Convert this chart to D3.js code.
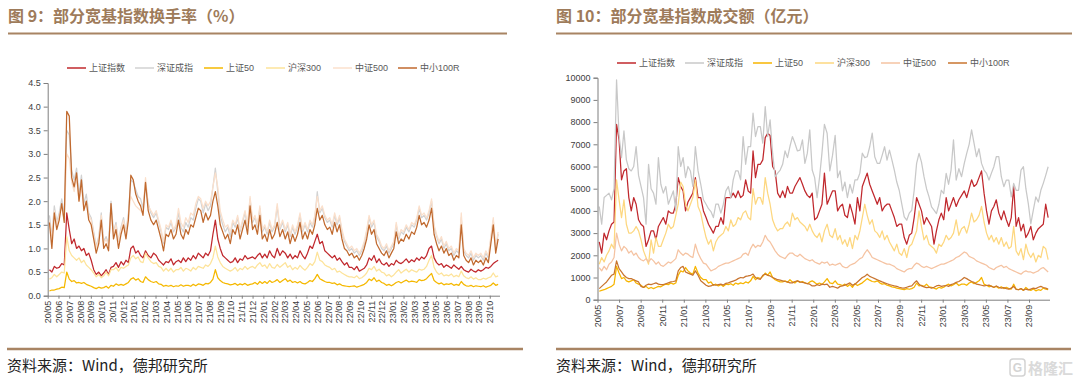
<!DOCTYPE html>
<html lang="zh">
<head>
<meta charset="utf-8">
<title>部分宽基指数换手率与成交额</title>
<script src="https://d3js.org/d3.v7.min.js"></script>
<style>
  body { margin: 0; background: #fff; }
  svg text { font-family: "Liberation Sans", Arial, "Noto Sans CJK SC", sans-serif; }
  .title { font-family: "Noto Sans CJK SC", sans-serif; font-weight: 700; font-size: 16px; fill: #9e7b5a; }
  .source { font-family: "Noto Sans CJK SC", sans-serif; font-size: 15px; fill: #222; }
  .legend text { font-size: 9px; fill: #595959; }
  .axis text { font-size: 9px; fill: #404040; }
  .axis path, .axis line { stroke: #7f7f7f; }
</style>
</head>
<body>
<svg id="chart" width="1080" height="383"></svg>
<script>
// ---- data: weekly readings, 2020-05-06 .. 2023-10-25 ----
const seriesNames = ["上证指数", "深证成指", "上证50", "沪深300", "中证500", "中小100R"];

const leftTicks = ["20/05","20/06","20/07","20/08","20/09","20/10","20/11","20/12",
  "21/01","21/02","21/03","21/04","21/05","21/06","21/07","21/08","21/09","21/10","21/11","21/12",
  "22/01","22/02","22/03","22/04","22/05","22/06","22/07","22/08","22/09","22/10","22/11","22/12",
  "23/01","23/02","23/03","23/04","23/05","23/06","23/07","23/08","23/09","23/10"];
const rightTicks = ["20/05","20/07","20/09","20/11","21/01","21/03","21/05","21/07","21/09","21/11",
  "22/01","22/03","22/05","22/07","22/09","22/11","23/01","23/03","23/05","23/07","23/09"];
const leftYTicks = [0, 0.5, 1, 1.5, 2, 2.5, 3, 3.5, 4, 4.5];
const rightYTicks = [0, 1000, 2000, 3000, 4000, 5000, 6000, 7000, 8000, 9000, 10000];

// 换手率 (%)
const toShIndex = [
  0.55,0.5,0.62,0.58, 0.6,0.68,0.65,1.75, 1.4,1.1,1.2,1.0,1.05, 0.95,1.0,0.85,0.9, 0.75,0.55,0.45,0.5,0.42, 0.48,0.55,0.45,0.6, 0.62,0.7,0.6,0.72, 0.65,0.75,0.7,1.0,1.05,
  0.9,0.95,0.85,0.8, 0.95,0.85,0.8,0.9, 0.85,0.75,0.7,0.65,0.72, 0.7,0.78,0.65,0.72, 0.75,0.7,0.8,0.72, 0.8,0.75,0.85,0.78,0.9, 0.85,0.8,0.9,0.85, 0.95,1.3,1.6,1.2, 1.0,0.85,0.8,0.75,0.7, 0.72,0.8,0.7,0.78, 0.75,0.85,0.78,0.8, 0.82,0.78,0.85,0.9,0.8,
  0.88,0.8,0.95,0.85, 0.8,1.0,0.85,0.95, 0.9,0.8,0.88,0.78,0.85, 0.8,0.95,0.85,0.78, 0.9,1.05,1.0,1.15, 1.3,1.1,1.15,0.95,0.9, 0.85,0.8,0.85,0.75, 0.8,0.72,0.65,0.7,0.6, 0.6,0.55,0.62,0.52, 0.55,0.58,0.65,0.8, 0.75,0.85,0.7,0.78,0.68, 0.65,0.7,0.62,0.68,
  0.65,0.75,0.7,0.68, 0.72,0.78,0.7,0.76, 0.72,0.8,0.75,0.82,0.78, 0.85,1.0,1.05,0.8, 0.7,0.65,0.68,0.6,0.65, 0.62,0.58,0.65,0.6, 0.56,0.62,0.55,0.52, 0.5,0.56,0.52,0.5,0.55, 0.52,0.55,0.6,0.58, 0.62,0.68,0.72,0.75
];
const toSzIndex = [
  1.7,1.25,1.9,1.55, 1.75,2.05,1.7,3.5, 3.4,2.65,2.45,2.7,2.15, 2.55,1.95,2.15,1.75, 1.65,1.35,1.05,1.25,1.75, 1.15,1.25,1.1,2.0, 1.35,1.55,1.15,1.45, 1.65,1.35,1.75,2.45,2.4,
  2.25,2.1,2.05,1.85, 2.4,1.95,1.75,1.65, 1.75,1.55,1.35,1.1,1.45, 1.4,1.55,1.35,1.45, 1.75,1.45,1.35,1.55, 1.45,1.65,1.6,1.85,2.05, 2.0,1.75,1.95,1.8, 1.9,2.3,2.7,2.2, 1.7,1.5,1.35,1.45,1.25, 1.55,1.45,1.65,1.35, 1.55,1.75,1.45,2.05, 1.55,1.65,1.45,1.85,1.35,
  1.45,1.3,1.55,1.35, 1.45,1.88,1.4,1.55, 1.35,1.5,1.25,1.45,1.3, 1.45,1.7,1.35,1.5, 1.35,1.55,1.45,1.65, 2.2,1.75,1.85,1.65,1.55, 1.6,1.45,1.7,1.5, 1.65,1.35,1.15,1.05,0.95, 1.0,0.9,0.95,0.85, 0.95,1.1,1.35,1.65, 1.45,1.55,1.25,1.15,1.0, 0.95,1.05,0.9,1.0,
  1.1,1.5,1.2,1.35, 1.3,1.45,1.35,1.5, 1.45,1.6,1.85,1.65,1.7, 1.6,1.75,2.0,1.45, 1.25,1.1,1.2,1.0,1.1, 0.95,1.0,0.85,0.95, 0.9,1.65,0.95,0.85, 0.8,0.9,0.75,0.85,0.8, 0.85,0.75,0.9,0.8, 1.2,1.6,1.0,1.3
];
const toSh50 = [
  0.1,0.12,0.12,0.14, 0.15,0.18,0.17,0.5, 0.35,0.3,0.32,0.27,0.28, 0.26,0.28,0.24,0.22, 0.2,0.17,0.15,0.18,0.16, 0.17,0.2,0.16,0.22, 0.2,0.25,0.22,0.24, 0.22,0.25,0.28,0.35,0.38,
  0.33,0.36,0.3,0.28, 0.4,0.34,0.3,0.28, 0.3,0.25,0.24,0.2,0.22, 0.2,0.22,0.19,0.21, 0.2,0.23,0.2,0.22, 0.22,0.2,0.24,0.21,0.25, 0.24,0.22,0.26,0.25, 0.28,0.35,0.55,0.38, 0.32,0.28,0.26,0.25,0.23, 0.24,0.26,0.22,0.25, 0.23,0.26,0.22,0.24, 0.25,0.28,0.24,0.3,0.26,
  0.3,0.26,0.32,0.28, 0.3,0.34,0.28,0.32, 0.36,0.3,0.33,0.28,0.3, 0.27,0.3,0.26,0.25, 0.28,0.32,0.3,0.36, 0.45,0.36,0.33,0.3,0.28, 0.28,0.26,0.27,0.23, 0.25,0.22,0.21,0.2,0.19, 0.2,0.21,0.18,0.2, 0.22,0.24,0.28,0.35, 0.32,0.38,0.3,0.33,0.28, 0.26,0.22,0.24,0.21,
  0.24,0.28,0.3,0.27, 0.3,0.33,0.29,0.31, 0.3,0.28,0.34,0.32,0.33, 0.36,0.42,0.47,0.32, 0.28,0.25,0.27,0.23,0.25, 0.24,0.26,0.22,0.24, 0.22,0.3,0.24,0.21, 0.2,0.22,0.19,0.21,0.2, 0.19,0.21,0.18,0.2, 0.22,0.27,0.22,0.24
];
const toHs300 = [
  0.35,0.38,0.45,0.4, 0.45,0.5,0.48,1.25, 0.95,0.85,0.8,0.75,0.8, 0.7,0.75,0.65,0.6, 0.55,0.48,0.4,0.45,0.38, 0.42,0.5,0.42,0.55, 0.55,0.6,0.52,0.6, 0.58,0.62,0.65,0.8,0.85,
  0.78,0.82,0.72,0.7, 0.9,0.8,0.72,0.68, 0.7,0.62,0.6,0.52,0.58, 0.52,0.58,0.5,0.55, 0.55,0.6,0.52,0.58, 0.56,0.52,0.6,0.55,0.62, 0.6,0.58,0.65,0.62, 0.68,0.8,1.05,0.82, 0.7,0.62,0.58,0.55,0.52, 0.55,0.6,0.52,0.58, 0.55,0.62,0.56,0.6, 0.62,0.58,0.65,0.7,0.62,
  0.65,0.58,0.68,0.6, 0.58,0.66,0.6,0.65, 0.7,0.6,0.64,0.55,0.6, 0.56,0.64,0.58,0.54, 0.6,0.68,0.64,0.72, 0.92,0.75,0.72,0.65,0.62, 0.6,0.55,0.58,0.5, 0.52,0.48,0.45,0.42,0.4, 0.4,0.38,0.42,0.36, 0.38,0.42,0.48,0.58, 0.55,0.62,0.52,0.56,0.5, 0.48,0.42,0.45,0.4,
  0.44,0.5,0.55,0.48, 0.52,0.56,0.5,0.55, 0.52,0.5,0.56,0.54,0.56, 0.62,0.75,0.85,0.6, 0.5,0.45,0.48,0.42,0.44, 0.42,0.46,0.4,0.43, 0.4,0.52,0.42,0.38, 0.36,0.4,0.35,0.38,0.34, 0.34,0.37,0.35,0.38, 0.4,0.48,0.4,0.42
];
const toZz500 = [
  1.6,1.2,1.8,1.5, 1.7,1.9,1.6,3.0, 2.9,2.4,2.2,2.5,2.0, 2.3,1.85,2.0,1.7, 1.6,1.3,1.0,1.2,1.7, 1.1,1.2,1.05,1.8, 1.3,1.5,1.15,1.4, 1.6,1.3,1.7,2.1,2.0,
  1.9,1.85,1.8,1.75, 2.5,1.9,1.8,1.7, 1.8,1.6,1.4,1.15,1.5, 1.45,1.6,1.4,1.5, 1.85,1.55,1.45,1.65, 1.55,1.75,1.7,1.95,2.1, 2.05,1.85,2.0,1.9, 2.0,2.3,2.6,2.3, 1.8,1.6,1.45,1.5,1.35, 1.6,1.5,1.7,1.4, 1.6,1.8,1.5,2.1, 1.6,1.7,1.5,1.9,1.4,
  1.5,1.35,1.6,1.4, 1.5,1.95,1.45,1.6, 1.4,1.55,1.3,1.5,1.35, 1.5,1.75,1.4,1.55, 1.4,1.6,1.5,1.7, 2.1,1.8,1.9,1.7,1.6, 1.65,1.5,1.75,1.55, 1.7,1.4,1.2,1.1,1.0, 1.05,0.95,1.0,0.9, 1.0,1.15,1.4,1.7, 1.5,1.6,1.3,1.2,1.05, 1.0,1.1,0.95,1.05,
  1.15,1.55,1.25,1.4, 1.35,1.5,1.4,1.55, 1.5,1.65,1.9,1.7,1.75, 1.65,1.8,2.05,1.5, 1.3,1.15,1.25,1.05,1.15, 1.0,1.05,0.9,1.0, 0.95,1.75,1.0,0.9, 0.85,0.95,0.8,0.9,0.85, 0.9,0.8,0.95,0.85, 1.25,1.65,1.05,1.35
];
const toZx100r = [
  1.55,1.0,1.75,1.4, 1.6,1.95,1.55,3.9, 3.8,2.5,2.3,2.6,2.0, 2.45,1.8,2.0,1.6, 1.5,1.2,0.9,1.1,1.6, 1.0,1.1,0.95,1.95, 1.2,1.4,1.0,1.3, 1.5,1.2,1.6,2.55,2.45,
  2.15,2.0,1.9,1.7, 2.4,1.8,1.6,1.5, 1.6,1.4,1.2,0.95,1.3, 1.25,1.4,1.2,1.3, 1.6,1.3,1.2,1.4, 1.3,1.5,1.45,1.65,1.85, 1.8,1.55,1.75,1.6, 1.7,2.0,2.2,1.9, 1.5,1.35,1.2,1.3,1.1, 1.4,1.3,1.5,1.2, 1.4,1.6,1.3,1.9, 1.4,1.5,1.3,1.7,1.2,
  1.3,1.15,1.4,1.2, 1.3,1.55,1.25,1.4, 1.2,1.35,1.1,1.3,1.15, 1.3,1.55,1.2,1.35, 1.2,1.4,1.3,1.5, 1.85,1.6,1.7,1.5,1.4, 1.45,1.3,1.55,1.35, 1.5,1.2,1.0,0.95,0.85, 0.9,0.8,0.85,0.75, 0.85,1.0,1.2,1.5, 1.3,1.4,1.1,1.0,0.9, 0.85,0.95,0.8,0.9,
  1.0,1.35,1.1,1.2, 1.15,1.3,1.2,1.35, 1.3,1.45,1.7,1.5,1.55, 1.45,1.6,1.85,1.3, 1.1,0.95,1.05,0.9,1.0, 0.85,0.9,0.75,0.85, 0.8,1.5,0.85,0.75, 0.7,0.8,0.65,0.75,0.7, 0.75,0.65,0.8,0.7, 1.1,1.5,0.9,1.2
];

// 成交额 (亿元)
const amtShIndex = [
  2600,2100,3000,2700, 3100,3400,3500,7900, 7200,5400,5800,5900,4600, 4000,4600,4300,3600, 3400,3300,2400,2700,3100, 3100,2700,3300,3500, 3700,3400,4000,3900, 3900,4300,5500,5100,4900,
  4000,4400,4600,4800, 5500,4600,4600,4000, 3700,3400,3200,3000,3300, 3300,3700,3400,4600, 4600,4600,4800,4600, 4900,4600,4700,5400,4900, 4800,6700,5500,6100, 6100,6300,7300,7500, 7400,6000,5800,4800,4600, 4900,4600,5100,4800, 4800,5100,5300,5500, 5200,4900,4700,4600,4800,
  3600,3700,4000,4300, 5700,4300,4600,4900, 4900,4000,4200,4300,3800, 3700,4300,3900,3400, 4600,4000,5100,5400, 5700,5200,4900,4600,4300, 4600,4000,4200,4300, 4300,4000,3700,3300,3400, 3400,2800,2500,2900, 3000,3700,4600,4300, 4000,3400,3700,3500,3300, 2500,3100,3600,3900,
  3600,4600,4000,4300, 4600,4200,4500,4700, 4900,4600,5000,5400,5100, 5200,5500,5800,4800, 4000,3400,4000,4200,4500, 3900,3600,4000,3600, 3300,3700,5100,3300, 3700,3100,3400,2800,3000, 3300,2700,3000,3200, 3300,3400,4300,3700
];
const amtSzIndex = [
  4200,3400,4600,4700, 4800,4500,5000,9900, 7400,6400,7600,6300,5900, 5800,6000,6900,5600, 5100,4600,3400,6100,5000, 4800,4300,6400,5200, 4800,5100,4300,4600, 4900,4000,6900,6000,6400,
  5500,6000,5800,5100, 6900,5800,5200,4500, 4300,4100,3970,3700,4300, 4300,3900,4300,4900, 5100,4600,5400,5800, 5800,5400,7350,6100,6900, 6900,8400,7350,7800, 7800,7050,8700,7350, 8100,6600,5540,5700,5840, 6100,6700,6400,6900, 7350,7050,6700,6740, 7200,6140,6600,7650,5840,
  5500,4600,5500,6600, 7900,7500,5800,6500, 7400,5500,5800,4900,5300, 4600,5200,4800,5400, 5400,5700,6600,6400, 6440,6890,7500,6440,6140, 6140,6500,6890,6290, 6740,6300,5840,5300,4930, 4330,3730,3580,3900, 4030,4930,6140,6590, 6200,5540,5000,4630,4180, 4030,3880,4300,4930,
  4780,5690,5200,5840, 7200,5390,5900,5540, 6140,6590,7000,7650,7050, 6440,6800,6140,5840, 5690,5390,5700,5990,6440, 6440,5540,5090,5390, 5390,4630,5240,4930, 4930,5840,5990,5000,4330, 3420,4030,4630,4400, 4930,5240,5600,5990
];
const amtSh50 = [
  380,420,450,500, 550,600,700,1500, 1200,950,1000,850,800, 850,900,750,700, 650,550,600,500,550, 500,550,600,580, 650,700,680,750, 700,750,1100,1300,1250,
  1450,1300,1200,1150, 1500,1200,1000,900, 900,750,800,650,700, 620,680,600,700, 680,720,650,750, 700,760,720,800,750, 850,1050,900,1000, 950,1050,1200,1100, 1250,1000,900,850,800, 800,850,780,900, 800,750,850,780, 820,760,720,800,850,
  780,700,750,680, 800,950,760,720, 850,700,680,640,700, 600,680,560,720, 640,700,760,850, 950,880,820,800,850, 760,700,720,650, 620,580,560,520,500, 480,450,500,470, 500,560,750,620, 650,600,700,580,560, 520,480,560,520,
  560,650,700,620, 680,750,640,700, 700,650,750,800,720, 780,850,1000,700, 650,580,620,550,600, 520,580,500,560, 500,480,700,480, 450,500,420,550,460, 420,480,400,450, 420,520,480,450
];
const amtHs300 = [
  1600,1900,1700,2000, 2200,2500,2300,5400, 4500,3700,4500,3400,3000, 3000,3100,3300,3100, 2700,2200,1900,1600,2700, 2100,2800,2400,2400, 2700,3000,3400,3200, 3300,3800,4300,5300,5100,
  4300,4000,4300,4600, 5400,4200,3900,3300, 2800,2500,2700,2200,2600, 2800,2900,3000,3300, 3100,3600,3300,3400, 3700,3600,3900,4000,3700, 3600,5000,4300,4600, 4600,4300,5500,4800, 4300,3600,3300,3100,3200, 3200,3400,3500,3300, 3900,3600,3700,3500, 3400,3300,3100,3400,3100,
  2900,2800,3000,2600, 3100,3400,2900,2800, 3200,2700,2900,2500,2700, 2400,2800,2300,2900, 2700,3100,3700,4300, 3800,3400,3600,3100,3000, 2800,3100,2700,2900, 2600,2400,2200,2500,2100, 2000,2300,1900,2400, 2500,2800,3100,4000, 3300,2700,2900,2500,2400, 2300,2100,2500,2400,
  2600,2900,2700,2800, 3000,3600,2900,3200, 3300,3000,3400,3900,3500, 3600,3800,4200,3500, 3000,2700,2900,2600,2800, 2500,2800,2400,2600, 2300,2400,3300,2200, 2000,2300,1800,2500,2100, 1900,2100,1700,2000, 1900,2400,2300,1800
];
const amtZz500 = [
  1450,1300,1500,1350, 1600,1700,1900,3000, 2500,2200,2400,2300,2100, 2200,2000,2100,1900, 1800,1750,1850,1700,1850, 1750,1600,1700,1550, 1500,1600,1700,1650, 1750,1850,2250,2100,2000,
  2100,2050,1950,1900, 2500,2100,1850,1650, 1600,1450,1300,1350,1400, 1500,1550,1600,1650, 1650,1700,1750,1800, 1850,1900,2050,2100,2000, 2300,2500,2350,2450, 2400,2600,2900,2700, 2600,2400,2200,2050,1950, 1900,1850,2000,2100, 2100,2000,1950,2050, 1950,1850,1800,1750,1800,
  1700,1650,1600,1700, 1650,1700,1550,1600, 1550,1600,1650,1500,1450, 1450,1550,1600,1650, 1750,1850,1900,2100, 2250,2100,1900,1850,1800, 1750,1700,1650,1600, 1600,1550,1500,1400,1350, 1300,1250,1350,1400, 1400,1550,1650,1600, 1500,1450,1500,1450,1400, 1450,1500,1550,1600,
  1600,1650,1700,1750, 1800,1900,1950,2050, 2150,2100,1950,1900,1850, 1750,1700,1650,1600, 1550,1450,1400,1350,1450, 1500,1550,1450,1500, 1400,1350,1300,1250, 1200,1150,1250,1300,1250, 1250,1200,1250,1300, 1400,1450,1350,1250
];
const amtZx100r = [
  500,600,700,800, 950,1100,1150,1750, 1400,1250,1100,1000,950, 950,900,850,800, 600,550,650,700,680, 720,760,700,680, 680,720,760,800, 820,850,1300,1450,1500,
  1250,1200,1150,1100, 1300,1100,850,750, 650,600,620,680,650, 680,700,660,740, 760,800,840,880, 950,1000,980,1050,1070, 1100,1150,1000,950, 920,1100,1150,1100, 1070,1000,950,900,880, 850,820,800,760, 760,820,850,800, 780,760,720,700,620,
  620,680,640,700, 680,700,560,600, 560,520,600,620,660, 700,760,650,700, 800,900,1000,1050, 1150,1050,1000,950,900, 850,800,760,720, 680,650,620,600,560, 530,520,560,600, 620,750,850,700, 620,580,540,560,520, 560,620,650,600,
  620,640,600,680, 720,780,820,900, 1000,950,880,820,780, 700,680,650,620, 640,660,600,560,620, 560,520,540,500, 480,520,600,460, 450,500,430,480,440, 480,520,500,560, 600,550,520,480
];

// ---- helpers ----
const weekDates = d3.range(toShIndex.length).map(i => d3.timeDay.offset(new Date(2020, 4, 6), i * 7));
function monthPos(d) {
  const dim = new Date(d.getFullYear(), d.getMonth() + 1, 0).getDate();
  return (d.getFullYear() - 2020) * 12 + d.getMonth() - 4 + (d.getDate() - 1) / dim;
}
const weekPos = weekDates.map(monthPos);

const svg = d3.select("#chart");

function drawChart(cfg) {
  const g = svg.append("g");

  // title + rule
  g.append("text").attr("class", "title").attr("x", cfg.titleX).attr("y", 22).text(cfg.title);
  g.append("line").attr("x1", cfg.ruleX[0]).attr("x2", cfg.ruleX[1]).attr("y1", 33.5).attr("y2", 33.5)
    .attr("stroke", "#a88463").attr("stroke-width", 2);

  const x = d3.scaleLinear().domain([0, 41.9]).range(cfg.xRange);
  const y = d3.scaleLinear().domain(cfg.yDomain).range(cfg.yRange);

  // lines
  const line = d3.line().x(d => x(d[0])).y(d => y(d[1]));
  cfg.series.forEach((s, k) => {
    const pts = s.map((v, i) => [weekPos[i], v]);
    g.append("path").datum(pts).attr("d", line).attr("fill", "none")
      .attr("stroke", cfg.colors[k]).attr("stroke-width", 1.25).attr("stroke-linejoin", "round");
  });

  // axes
  g.append("g").attr("class", "axis")
    .attr("transform", `translate(${cfg.xRange[0]},0)`)
    .call(d3.axisLeft(y).tickValues(cfg.yTicks).tickSize(4).tickPadding(3).tickFormat(cfg.yFormat));

  const tickIdx = cfg.xTicks.map((t, i) => i * cfg.xStep);
  const xAxis = g.append("g").attr("class", "axis")
    .attr("transform", `translate(0,${cfg.yRange[0]})`)
    .call(d3.axisBottom(x).tickValues(tickIdx).tickSize(3).tickSizeOuter(0)
      .tickFormat((d, i) => cfg.xTicks[i]));
  xAxis.selectAll("text")
    .attr("transform", "rotate(-90)")
    .attr("x", -5).attr("y", 0).attr("dy", "0.33em")
    .style("text-anchor", "end");

  // legend
  const lg = g.append("g").attr("class", "legend");
  seriesNames.forEach((name, k) => {
    const lx = cfg.legendX[k];
    lg.append("line").attr("x1", lx).attr("x2", lx + 19).attr("y1", cfg.legendY).attr("y2", cfg.legendY)
      .attr("stroke", cfg.colors[k]).attr("stroke-width", 1.5);
    lg.append("text").attr("x", lx + 22).attr("y", cfg.legendY).attr("dy", "0.35em").text(name);
  });

  // footer
  g.append("line").attr("x1", cfg.footX[0]).attr("x2", cfg.footX[1]).attr("y1", 349).attr("y2", 349)
    .attr("stroke", "#a88463").attr("stroke-width", 2.5);
  g.append("text").attr("class", "source").attr("x", cfg.footX[0]).attr("y", 371).text("资料来源：Wind，德邦研究所");
}

drawChart({
  title: "图 9：部分宽基指数换手率（%）",
  titleX: 8, ruleX: [8, 507], footX: [7, 523],
  xRange: [47.7, 499.5], yDomain: [0, 4.5], yRange: [295.7, 83],
  yTicks: leftYTicks, yFormat: d3.format(".1f"),
  xTicks: leftTicks, xStep: 1,
  series: [toShIndex, toSzIndex, toSh50, toHs300, toZz500, toZx100r],
  colors: ["#c0282d", "#d2d2d2", "#f5b800", "#fde39a", "#fbe0cc", "#c0692e"],
  legendX: [67, 135, 204, 266, 333, 398], legendY: 68
});

drawChart({
  title: "图 10：部分宽基指数成交额（亿元）",
  titleX: 556, ruleX: [556, 1072], footX: [556, 1071],
  xRange: [597.5, 1049.5], yDomain: [0, 10000], yRange: [299.7, 77.7],
  yTicks: rightYTicks, yFormat: d3.format("d"),
  xTicks: rightTicks, xStep: 2,
  series: [amtShIndex, amtSzIndex, amtSh50, amtHs300, amtZz500, amtZx100r],
  colors: ["#c0282d", "#c8c8c8", "#f7b500", "#fdd77f", "#f5c3a2", "#c8742f"],
  legendX: [617, 685, 753, 815, 881, 948], legendY: 63
});

// watermark
const wm = svg.append("g").attr("opacity", 0.9);
wm.append("rect").attr("x", 1010).attr("y", 359).attr("width", 15).attr("height", 17).attr("rx", 3)
  .attr("fill", "none").attr("stroke", "#cfcfcf").attr("stroke-width", 1.5);
wm.append("text").attr("x", 1017.5).attr("y", 372).attr("text-anchor", "middle")
  .style("font-size", "12px").style("font-weight", "700").attr("fill", "#cfcfcf").text("G");
wm.append("text").attr("x", 1028).attr("y", 374)
  .style("font-family", "'Noto Sans CJK SC', sans-serif").style("font-size", "15px").style("font-weight", "700")
  .attr("fill", "#d6d6d6").text("格隆汇");
</script>
</body>
</html>
